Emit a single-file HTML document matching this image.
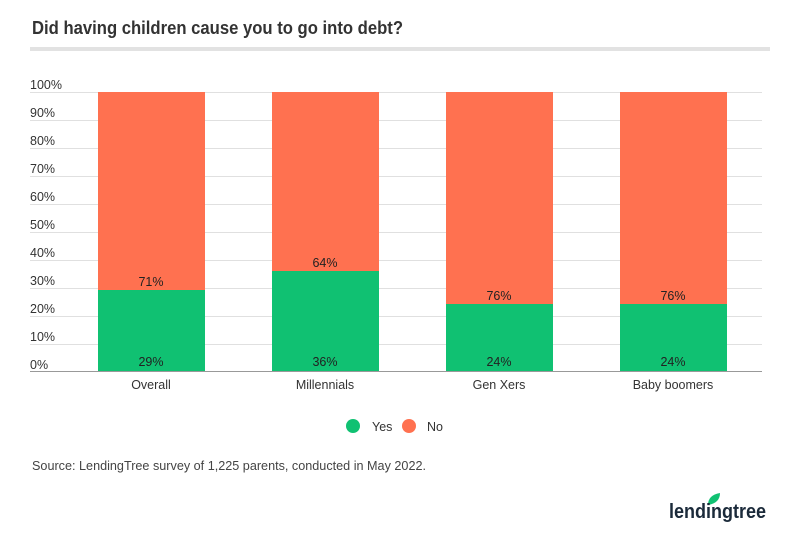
<!DOCTYPE html>
<html><head><style>
body{margin:0;background:#fff;font-family:"Liberation Sans",sans-serif;}
</style></head><body>
<svg width="800" height="538" xmlns="http://www.w3.org/2000/svg" font-family="Liberation Sans, sans-serif">
<text x="32" y="34" font-size="18" font-weight="bold" fill="#333" textLength="371" lengthAdjust="spacingAndGlyphs">Did having children cause you to go into debt?</text>
<rect x="30" y="47" width="740" height="4" fill="#e2e2e2"/>
<g stroke="#e0e0e0" stroke-width="1">
<line x1="30" x2="762" y1="92.5" y2="92.5"/><line x1="30" x2="762" y1="120.5" y2="120.5"/><line x1="30" x2="762" y1="148.5" y2="148.5"/><line x1="30" x2="762" y1="176.5" y2="176.5"/><line x1="30" x2="762" y1="204.5" y2="204.5"/><line x1="30" x2="762" y1="232.5" y2="232.5"/><line x1="30" x2="762" y1="260.5" y2="260.5"/><line x1="30" x2="762" y1="288.5" y2="288.5"/><line x1="30" x2="762" y1="316.5" y2="316.5"/><line x1="30" x2="762" y1="344.5" y2="344.5"/>
</g>
<g font-size="12.5" fill="#333">
<text x="30" y="89">100%</text><text x="30" y="117">90%</text><text x="30" y="145">80%</text><text x="30" y="173">70%</text><text x="30" y="201">60%</text><text x="30" y="229">50%</text><text x="30" y="257">40%</text><text x="30" y="285">30%</text><text x="30" y="313">20%</text><text x="30" y="341">10%</text><text x="30" y="369">0%</text>
</g>
<g>
<rect x="98" y="92" width="107" height="198" fill="#ff7150"/><rect x="98" y="290" width="107" height="81" fill="#10c172"/>
<rect x="272" y="92" width="107" height="179" fill="#ff7150"/><rect x="272" y="271" width="107" height="100" fill="#10c172"/>
<rect x="446" y="92" width="107" height="212" fill="#ff7150"/><rect x="446" y="304" width="107" height="67" fill="#10c172"/>
<rect x="620" y="92" width="107" height="212" fill="#ff7150"/><rect x="620" y="304" width="107" height="67" fill="#10c172"/>
</g>
<line x1="30" x2="762" y1="371.5" y2="371.5" stroke="#999"/>
<g font-size="12.5" fill="#222" text-anchor="middle">
<text x="151" y="286">71%</text><text x="151" y="366">29%</text>
<text x="325" y="267">64%</text><text x="325" y="366">36%</text>
<text x="499" y="300">76%</text><text x="499" y="366">24%</text>
<text x="673" y="300">76%</text><text x="673" y="366">24%</text>
</g>
<g font-size="12.5" fill="#333" text-anchor="middle">
<text x="151" y="389">Overall</text><text x="325" y="389">Millennials</text><text x="499" y="389">Gen Xers</text><text x="673" y="389">Baby boomers</text>
</g>
<circle cx="353" cy="426" r="7" fill="#10c172"/><text x="372" y="431" font-size="12.5" fill="#333">Yes</text>
<circle cx="409" cy="426" r="7" fill="#ff7150"/><text x="427" y="431" font-size="12.5" fill="#333">No</text>
<text x="32" y="470" font-size="12.5" fill="#444" textLength="394" lengthAdjust="spacingAndGlyphs">Source: LendingTree survey of 1,225 parents, conducted in May 2022.</text>
<path d="M708 505 q0 -10 12 -12 q0 10 -12 12z" fill="#10c172"/>
<text x="669" y="518" font-size="20" font-weight="bold" fill="#1b2a3a" textLength="97" lengthAdjust="spacingAndGlyphs">lendingtree</text>
</svg>
</body></html>
